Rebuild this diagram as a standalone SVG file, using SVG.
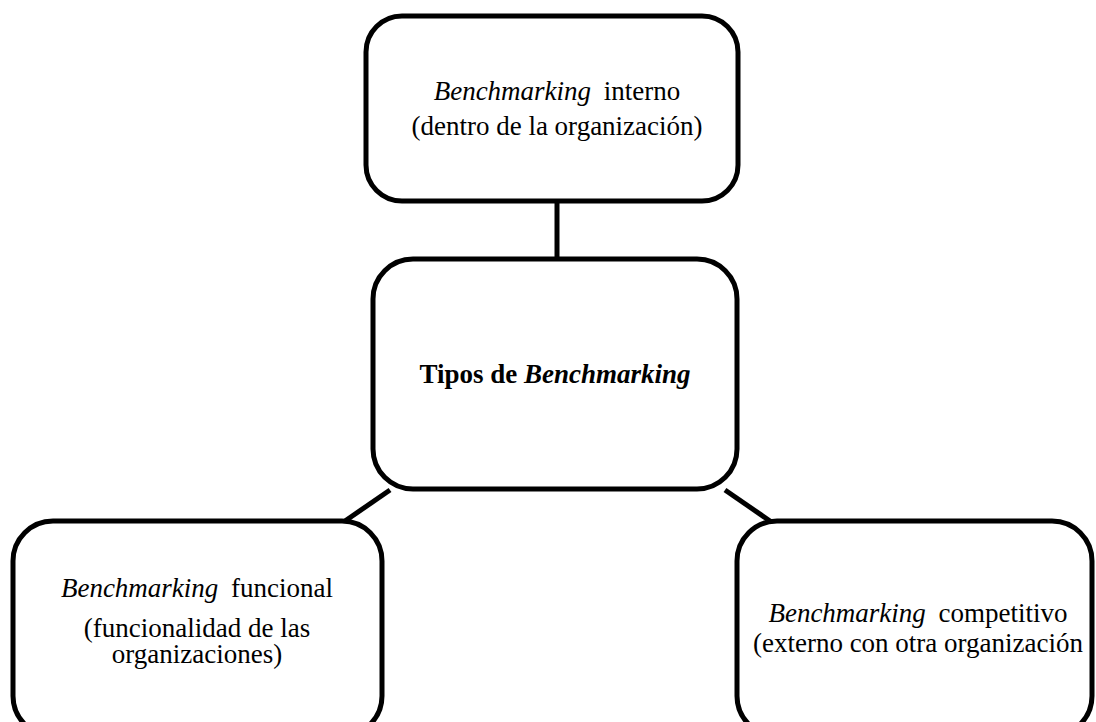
<svg xmlns="http://www.w3.org/2000/svg" width="1096" height="722" viewBox="0 0 1096 722">
<style>
.box{fill:#fff;stroke:#000;stroke-width:5}
.t{font-family:"Liberation Serif","Times New Roman",serif;font-size:27px;fill:#000;text-anchor:middle}
.b{font-weight:bold}
.i{font-style:italic}
.c{stroke:#000;stroke-width:5;fill:none}
</style>
<rect width="1096" height="722" fill="#fff"/>
<g id="connectors">
<line class="c" x1="557" y1="201" x2="557" y2="258"/>
<line class="c" x1="390" y1="490" x2="345" y2="521"/>
<line class="c" x1="725" y1="490" x2="770" y2="521"/>
</g>
<g id="node-interno">
<rect class="box" x="366" y="16" width="372" height="185" rx="36"/>
<text class="t" x="557" y="100"><tspan class="i">Benchmarking</tspan><tspan dx="6"> interno</tspan></text>
<text class="t" x="557" y="135">(dentro de la organización)</text>
</g>
<g id="node-tipos">
<rect class="box" x="373" y="259" width="364" height="230" rx="40"/>
<text class="t b" x="555" y="383">Tipos de <tspan class="i">Benchmarking</tspan></text>
</g>
<g id="node-funcional">
<rect class="box" x="13" y="521" width="369" height="215" rx="40"/>
<text class="t" x="197" y="597"><tspan class="i">Benchmarking</tspan><tspan dx="6"> funcional</tspan></text>
<text class="t" x="197" y="637">(funcionalidad de las</text>
<text class="t" x="197" y="663">organizaciones)</text>
</g>
<g id="node-competitivo">
<rect class="box" x="737" y="521" width="355" height="215" rx="40"/>
<text class="t" x="918" y="622"><tspan class="i">Benchmarking</tspan><tspan dx="6"> competitivo</tspan></text>
<text class="t" x="918" y="652">(externo con otra organización</text>
</g>
</svg>
